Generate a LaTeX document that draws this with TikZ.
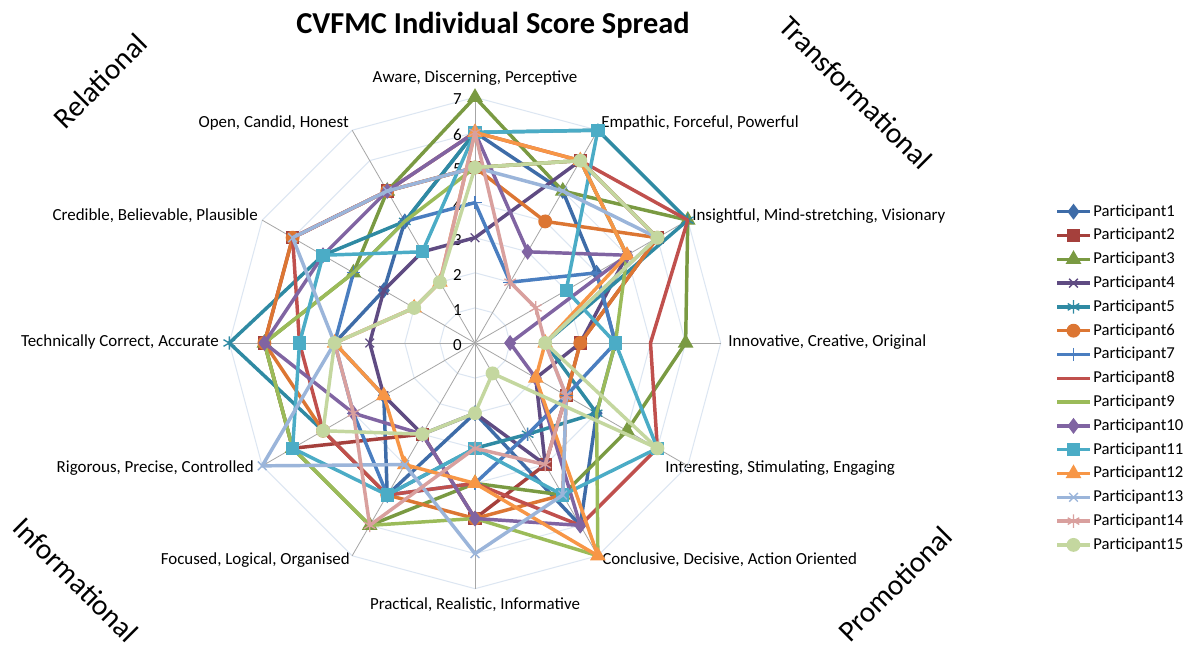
\documentclass[tikz,border=0pt]{standalone}
\usepackage{fontspec}
\setmainfont{Carlito}
\usetikzlibrary{plotmarks}

\definecolor{pone}{HTML}{3E6CA8}
\definecolor{ptwo}{HTML}{A5403C}
\definecolor{pthree}{HTML}{7A9A42}
\definecolor{pfour}{HTML}{5F4B82}
\definecolor{pfive}{HTML}{2F8AA3}
\definecolor{psix}{HTML}{DC7633}
\definecolor{pseven}{HTML}{4A7EC0}
\definecolor{peight}{HTML}{C0504D}
\definecolor{pnine}{HTML}{9BBB59}
\definecolor{pten}{HTML}{8064A2}
\definecolor{peleven}{HTML}{4BACC6}
\definecolor{ptwelve}{HTML}{F79646}
\definecolor{pthirteen}{HTML}{9BB5DA}
\definecolor{pfourteen}{HTML}{D9A09E}
\definecolor{pfifteen}{HTML}{C4D79F}
\definecolor{gridblue}{HTML}{DCE6F2}
\definecolor{spokegray}{HTML}{A6A6A6}

% colour / mark / mark size / scores from Aware clockwise
\def\participants{%
  pone/diamond*/5.2/{6,5,4,4,4,6,2,5,3,4,3,4},
  ptwo/square*/4.5/{5,6,6,3,3,4,5,3,6,6,6,5},
  pthree/triangle*/5.8/{7,5,7,6,5,5,4,6,6,6,4,5},
  pfour/x/4.6/{3,6,5,3,2,4,2,3,3,3,3,3},
  pfive/asterisk/5/{6,7,7,2,4,3,3,5,5,7,5,4},
  psix/*/4.7/{5,4,6,3,3,5,5,5,5,6,6,5},
  pseven/+/5/{4,2,4,4,3,3,4,5,4,4,4,4},
  peight/none/1/{6,6,7,5,6,6,4,5,5,5,6,5},
  pnine/none/1/{5,6,5,4,4,7,5,6,6,6,4,4},
  pten/diamond*/5.2/{6,3,5,1,2,6,5,3,4,6,5,5},
  peleven/square*/4.5/{6,7,3,4,6,5,3,5,6,5,5,3},
  ptwelve/triangle*/5.8/{6,6,5,2,2,7,4,4,3,4,2,2},
  pthirteen/x/4.6/{5,5,6,2,3,5,6,4,7,4,6,5},
  pfourteen/asterisk/5/{6,2,2,2,3,4,3,6,4,4,2,2},
  pfifteen/*/4.7/{5,6,6,2,6,1,2,3,5,4,2,2}}

\tikzset{
  ring/.style={draw=gridblue, line width=0.75pt},
  spoke/.style={draw=spokegray, line width=0.6pt},
  series/.style={line width=2.6pt, line join=round},
  axislabel/.style={font=\fontsize{12.7}{14}\selectfont, inner sep=0pt},
  ticklabel/.style={font=\fontsize{12.7}{14}\selectfont, inner sep=0pt, anchor=east},
  legendlabel/.style={font=\fontsize{12.5}{14}\selectfont, inner sep=0pt, anchor=west},
  headline/.style={font=\fontsize{22.8}{26}\selectfont\bfseries, inner sep=0pt},
  corner/.style={font=\fontsize{22}{26}\selectfont, inner sep=0pt}
}

\begin{document}
\begin{tikzpicture}[x=0.75pt,y=-0.75pt]
\useasboundingbox (0,0) rectangle (1193,645);
\fill[white] (0,0) rectangle (1193,645);

\node[headline] (title) at (493,25) {CVFMC Individual Score Spread};

\node[corner, rotate=45] (relational) at (100,81) {Relational};
\node[corner, rotate=-45] (transformational) at (856,93) {Transformational};
\node[corner, rotate=-45] (informational) at (76,580) {Informational};
\node[corner, rotate=45] (promotional) at (895,584) {Promotional};

\node[axislabel] (aware) at (475,78) {Aware, Discerning, Perceptive};
\node[axislabel, anchor=west] (empathic) at (601,123) {Empathic, Forceful, Powerful};
\node[axislabel, anchor=west] (insightful) at (692,216) {Insightful, Mind-stretching, Visionary};
\node[axislabel, anchor=west] (innovative) at (728,342) {Innovative, Creative, Original};
\node[axislabel, anchor=west] (interesting) at (665,468) {Interesting, Stimulating, Engaging};
\node[axislabel, anchor=west] (conclusive) at (602,560) {Conclusive, Decisive, Action Oriented};
\node[axislabel] (practical) at (475,605) {Practical, Realistic, Informative};
\node[axislabel, anchor=east] (focused) at (350,560) {Focused, Logical, Organised};
\node[axislabel, anchor=east] (rigorous) at (254,468) {Rigorous, Precise, Controlled};
\node[axislabel, anchor=east] (technically) at (219,342) {Technically Correct, Accurate};
\node[axislabel, anchor=east] (credible) at (258,216) {Credible, Believable, Plausible};
\node[axislabel, anchor=east] (open) at (349,123) {Open, Candid, Honest};

\begin{scope}[shift={(475,343)}, y=0.75pt]
  \foreach \r in {1,...,7}
    \draw[ring] ({90}:{35.1*\r}) \foreach \k in {1,...,11} { -- ({90-30*\k}:{35.1*\r}) } -- cycle;
  \foreach \k in {0,...,11}
    \draw[spoke] (0,0) -- ({90-30*\k}:{35.1*7});
  \foreach \r in {0,...,7}
    \node[ticklabel] (tick\r) at (-13,{35.1*\r-2}) {\r};

  \foreach \col/\mk/\ms/\vals in \participants {
    \foreach \v [count=\i from 0] in \vals
      \coordinate (v\i) at ({90-30*\i}:{35.1*\v});
    \draw[series, \col] (v0) -- (v1) -- (v2) -- (v3) -- (v4) -- (v5) -- (v6)
      -- (v7) -- (v8) -- (v9) -- (v10) -- (v11) -- cycle;
    \path plot[only marks, mark=\mk, mark size=\ms pt,
      mark options={solid, line width=1pt, draw=\col, fill=\col}]
      coordinates {(v0) (v1) (v2) (v3) (v4) (v5) (v6) (v7) (v8) (v9) (v10) (v11)};
  }
\end{scope}

\foreach \col/\mk/\ms/\vals [count=\n] in \participants {
  \draw[series, \col] (1057,{211.7+23.8*(\n-1)}) -- (1090,{211.7+23.8*(\n-1)});
  \path plot[only marks, mark=\mk, mark size=\ms pt,
    mark options={solid, line width=1pt, draw=\col, fill=\col}]
    coordinates {(1073.5,{211.7+23.8*(\n-1)})};
  \node[legendlabel] (legend\n) at (1093,{211.7+23.8*(\n-1)}) {Participant\n};
}
\end{tikzpicture}
\end{document}
